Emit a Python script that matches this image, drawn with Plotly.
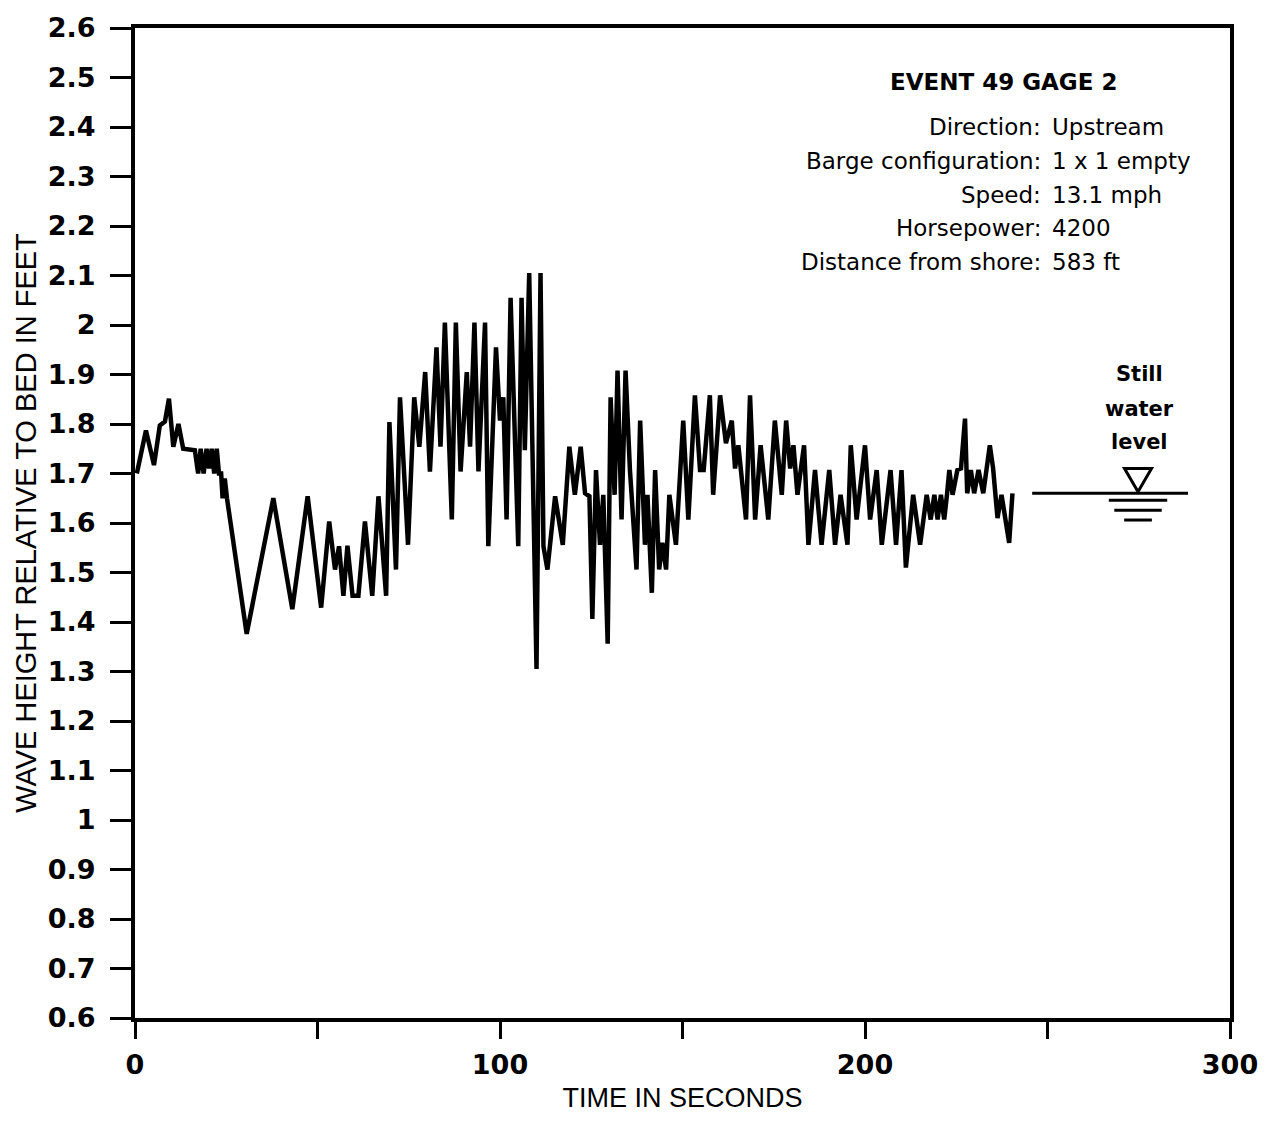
import plotly.graph_objects as go

# ---- data ----
time_s = [0.5, 3.0, 5.2, 6.8, 8.2, 9.3, 10.5, 11.9, 13.2, 16.4, 17.3, 18.0, 18.8, 19.6, 20.3, 21.0,
          21.7, 22.4, 23.0, 23.6, 24.0, 24.6, 25.2, 30.6, 37.9, 43.1, 47.3, 51.0, 53.2, 54.8, 55.9,
          57.1, 58.2, 59.6, 61.2, 63.0, 65.0, 66.7, 68.8, 69.7, 71.5, 72.6, 74.8, 76.5, 77.9, 79.5,
          80.8, 82.6, 83.7, 84.9, 86.8, 87.9, 89.2, 90.9, 91.8, 93.0, 94.1, 95.9, 96.8, 98.9, 100.0,
          100.9, 101.8, 102.9, 105.0, 105.9, 106.8, 108.0, 110.0, 111.1, 111.9, 113.0, 115.1, 117.2,
          119.0, 120.5, 122.1, 123.3, 124.5, 125.3, 126.3, 127.4, 128.3, 129.5, 130.3, 131.4, 132.2,
          133.3, 134.4, 135.6, 137.4, 138.4, 139.7, 140.4, 141.6, 142.5, 143.6, 144.5, 145.5, 146.4,
          148.2, 150.2, 151.6, 153.4, 154.8, 155.8, 157.5, 158.4, 160.3, 161.9, 163.5, 164.4, 165.3,
          167.4, 168.5, 169.9, 171.4, 173.5, 175.3, 177.2, 178.4, 179.5, 180.4, 181.5, 183.3, 184.5,
          186.3, 188.1, 190.2, 191.8, 193.3, 195.2, 196.1, 197.7, 200.0, 201.4, 203.2, 204.6, 207.0,
          208.5, 210.0, 211.2, 213.2, 215.1, 216.9, 218.0, 219.0, 219.9, 220.8, 221.7, 222.5, 223.1,
          224.0, 225.3, 226.3, 227.4, 228.0, 229.0, 229.9, 231.1, 232.4, 234.2, 235.1, 236.3, 237.4,
          238.4, 239.5, 240.4]
wave_ft = [1.70, 1.787, 1.717, 1.797, 1.805, 1.851, 1.754, 1.80, 1.75, 1.747, 1.70, 1.75, 1.70, 1.75,
           1.71, 1.75, 1.70, 1.75, 1.70, 1.70, 1.65, 1.69, 1.65, 1.376, 1.650, 1.426, 1.654, 1.429,
           1.603, 1.506, 1.553, 1.453, 1.554, 1.453, 1.453, 1.603, 1.453, 1.654, 1.453, 1.804, 1.506,
           1.854, 1.556, 1.854, 1.754, 1.905, 1.704, 1.955, 1.754, 2.005, 1.607, 2.005, 1.704, 1.905,
           1.754, 2.005, 1.704, 2.005, 1.553, 1.955, 1.807, 1.854, 1.607, 2.055, 1.553, 2.055, 1.747,
           2.105, 1.305, 2.105, 1.553, 1.506, 1.654, 1.556, 1.754, 1.657, 1.754, 1.660, 1.654, 1.406,
           1.707, 1.556, 1.657, 1.356, 1.854, 1.657, 1.908, 1.607, 1.908, 1.707, 1.506, 1.807, 1.556,
           1.657, 1.459, 1.707, 1.506, 1.560, 1.506, 1.657, 1.556, 1.807, 1.607, 1.858, 1.707, 1.707,
           1.858, 1.657, 1.858, 1.761, 1.807, 1.710, 1.757, 1.607, 1.858, 1.607, 1.757, 1.607, 1.807,
           1.657, 1.807, 1.710, 1.757, 1.657, 1.757, 1.556, 1.707, 1.556, 1.707, 1.556, 1.657, 1.556,
           1.757, 1.607, 1.757, 1.607, 1.707, 1.556, 1.707, 1.556, 1.707, 1.510, 1.657, 1.556, 1.657,
           1.607, 1.657, 1.607, 1.657, 1.607, 1.66, 1.707, 1.657, 1.707, 1.71, 1.811, 1.660, 1.707,
           1.66, 1.707, 1.66, 1.757, 1.71, 1.610, 1.657, 1.607, 1.56, 1.66]

still_water_level = 1.66
still_water_t = [245.8, 288.5]
marker_t = 274.8

x_tick_vals = [0, 50, 100, 150, 200, 250, 300]
x_tick_text = ["0", "", "100", "", "200", "", "300"]
y_tick_vals = [0.6 + 0.1 * i for i in range(21)]
y_tick_text = ["0.6", "0.7", "0.8", "0.9", "1", "1.1", "1.2", "1.3", "1.4", "1.5", "1.6", "1.7",
               "1.8", "1.9", "2", "2.1", "2.2", "2.3", "2.4", "2.5", "2.6"]

info_labels = ["Direction:", "Barge configuration:", "Speed:", "Horsepower:", "Distance from shore:"]
info_values = ["Upstream", "1 x 1 empty", "13.1 mph", "4200", "583 ft"]
title_text = "EVENT 49 GAGE 2"
swl_words = ["Still", "water", "level"]

fig = go.Figure()
fig.add_trace(go.Scatter(x=time_s, y=wave_ft, mode="lines",
                         line=dict(color="black", width=4.5), showlegend=False, hoverinfo="skip"))
fig.add_trace(go.Scatter(x=still_water_t, y=[still_water_level] * 2, mode="lines",
                         line=dict(color="black", width=3), showlegend=False, hoverinfo="skip"))

# still water level symbol (triangle + underlines)
tri_h = 0.05
tri_w = 3.7
fig.add_shape(type="path",
              path=f"M {marker_t - tri_w},{still_water_level + tri_h} L {marker_t + tri_w},{still_water_level + tri_h} "
                   f"L {marker_t},{still_water_level + 0.003} Z",
              xref="x", yref="y", line=dict(color="black", width=3), fillcolor="rgba(0,0,0,0)")
for dy, hw in [(0.014, 8.0), (0.034, 6.5), (0.054, 3.8)]:
    fig.add_shape(type="line", xref="x", yref="y",
                  x0=marker_t - hw, x1=marker_t + hw,
                  y0=still_water_level - dy, y1=still_water_level - dy,
                  line=dict(color="black", width=3))

TXT = "DejaVu Sans"
fig.add_annotation(text=f"<b>{title_text}</b>", xref="paper", yref="paper", x=0.7936, y=0.9458,
                   xanchor="center", yanchor="middle", showarrow=False,
                   font=dict(family=TXT, size=23, color="black"))
row_y = [0.9000, 0.8658, 0.8317, 0.7976, 0.7634]
for lab, val, yy in zip(info_labels, info_values, row_y):
    fig.add_annotation(text=lab, xref="paper", yref="paper", x=0.8290, y=yy,
                       xanchor="right", yanchor="middle", showarrow=False,
                       font=dict(family=TXT, size=23, color="black"))
    fig.add_annotation(text=val, xref="paper", yref="paper", x=0.8360, y=yy,
                       xanchor="left", yanchor="middle", showarrow=False,
                       font=dict(family=TXT, size=23, color="black"))
for w, yy in zip(swl_words, [0.6510, 0.6155, 0.5820]):
    fig.add_annotation(text=f"<b>{w}</b>", xref="paper", yref="paper", x=0.9178, y=yy,
                       xanchor="center", yanchor="middle", showarrow=False,
                       font=dict(family=TXT, size=21, color="black"))

fig.update_layout(
    width=1270, height=1126, autosize=False,
    margin=dict(l=135, r=40, t=22, b=108),
    paper_bgcolor="white", plot_bgcolor="white",
    xaxis=dict(range=[0, 300], tickvals=x_tick_vals, ticktext=x_tick_text,
               ticks="outside", ticklen=17, tickwidth=3, tickcolor="black",
               showline=True, linewidth=4, linecolor="black", mirror=True,
               showgrid=False, zeroline=False,
               tickfont=dict(family="DejaVu Sans", size=27, color="black", weight="bold"),
               ticklabelstandoff=3,
               title=dict(text="TIME IN SECONDS", standoff=10,
                          font=dict(family="Liberation Sans", size=27, color="black"))),
    yaxis=dict(range=[0.6, 2.6], tickvals=y_tick_vals, ticktext=y_tick_text,
               ticks="outside", ticklen=21, tickwidth=3, tickcolor="black",
               showline=True, linewidth=4, linecolor="black", mirror=True,
               showgrid=False, zeroline=False,
               tickfont=dict(family="DejaVu Sans", size=27, color="black", weight="bold"),
               ticklabelstandoff=9,
               title=dict(text="WAVE HEIGHT RELATIVE TO BED IN FEET", standoff=4,
                          font=dict(family="Liberation Sans", size=29, color="black"))),
)

fig.write_html("out.html")
